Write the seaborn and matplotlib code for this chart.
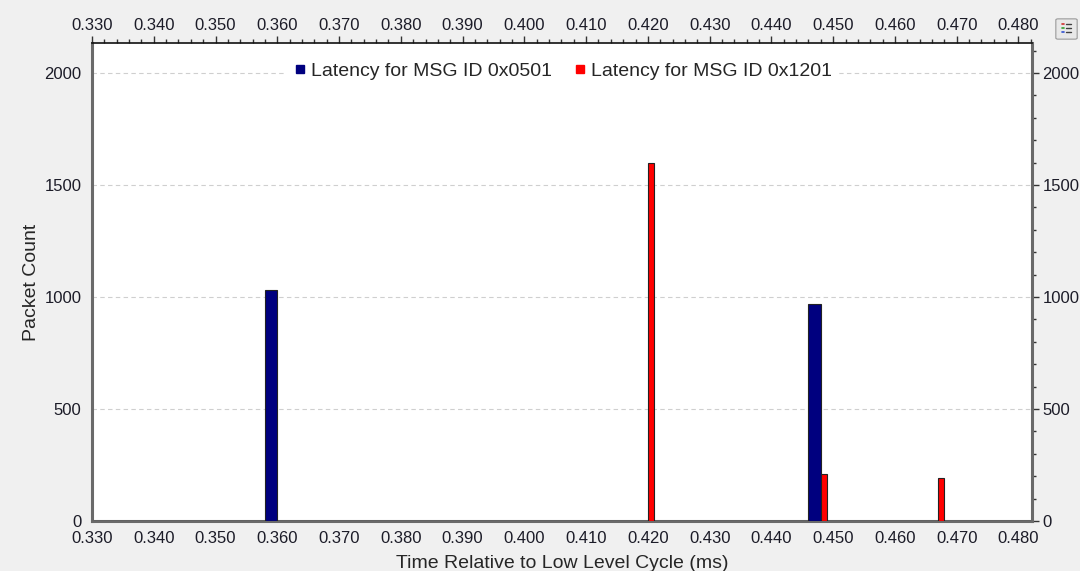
import numpy as np
import pandas as pd
import matplotlib
matplotlib.use('Agg')
import matplotlib.pyplot as plt
from matplotlib.lines import Line2D
from matplotlib.patches import FancyBboxPatch
from matplotlib.ticker import MultipleLocator, FormatStrFormatter
import seaborn as sns

sns.set_style('white')
plt.rcParams['font.family'] = ['Liberation Sans', 'DejaVu Sans']

# =========================
#  DATA
# =========================

series_names = ['Latency for MSG ID 0x0501', 'Latency for MSG ID 0x1201']
series_colors = ['#00007f', '#ff0000']

# bin left edges (ms) and packet counts
blue_bins = [0.358, 0.446]
blue_counts = [1032, 968]
blue_width = 0.002

red_bins = [0.420, 0.448, 0.467]
red_counts = [1600, 210, 190]
red_width = 0.001

x_min, x_max = 0.330, 0.4822
y_min, y_max = 0, 2134

# =========================
#  PLOT
# =========================

fig = plt.figure(figsize=(10.8, 5.71), dpi=100, facecolor='#f0f0f0')
ax = fig.add_axes([0.0852, 0.0876, 0.8704, 0.8371])
ax.set_facecolor('white')

blue_df = pd.DataFrame({'t': np.array(blue_bins) + blue_width / 2, 'n': blue_counts})
red_df = pd.DataFrame({'t': np.array(red_bins) + red_width / 2, 'n': red_counts})

sns.histplot(data=blue_df, x='t', weights='n', binwidth=blue_width,
             binrange=(x_min, x_min + 76 * blue_width), color=series_colors[0],
             alpha=1, edgecolor='#222222', linewidth=0.8, ax=ax, zorder=3)
sns.histplot(data=red_df, x='t', weights='n', binwidth=red_width,
             binrange=(x_min, x_min + 152 * red_width), color=series_colors[1],
             alpha=1, edgecolor='#222222', linewidth=0.8, ax=ax, zorder=3)

ax.set_xlim(x_min, x_max)
ax.set_ylim(y_min, y_max)

ax.xaxis.set_major_locator(MultipleLocator(0.01))
ax.xaxis.set_minor_locator(MultipleLocator(0.002))
ax.xaxis.set_major_formatter(FormatStrFormatter('%.3f'))
ax.yaxis.set_major_locator(MultipleLocator(500))
ax.yaxis.set_minor_locator(MultipleLocator(100))

ax.tick_params(which='both', direction='out', colors='#333333', labelcolor='#1c1c28',
               top=True, labeltop=True, right=True, labelright=True,
               labelsize=12, pad=1)
ax.tick_params(axis='x', which='both', pad=2.5)
ax.tick_params(axis='y', which='both', pad=2.5)
ax.tick_params(which='major', length=5, width=1)
ax.tick_params(which='minor', length=3, width=1)

ax.grid(False)
ax.yaxis.grid(True, which='major', color='#cfcfcf', linestyle=(0, (4, 3)), linewidth=0.8, zorder=0)
ax.set_axisbelow(True)

for side in ['left', 'bottom', 'right']:
    ax.spines[side].set_color('#6a6a6a')
    ax.spines[side].set_linewidth(2.2)
ax.spines['top'].set_color('#111111')
ax.spines['top'].set_linewidth(1.2)

ax.set_xlabel('Time Relative to Low Level Cycle (ms)', fontsize=14, labelpad=6)
ax.set_ylabel('Packet Count', fontsize=14, labelpad=3)

handles = [Line2D([], [], linestyle='none', marker='s', markersize=6,
                  markerfacecolor=c, markeredgecolor=c) for c in series_colors]
leg = ax.legend(handles, series_names, loc='upper center', ncol=2, fontsize=14,
                frameon=True, framealpha=1, edgecolor='white', fancybox=False,
                handletextpad=0.2, columnspacing=1.0, handlelength=0.8,
                borderaxespad=0.7, borderpad=0.3)
leg.set_zorder(5)

# small legend-toggle button in the top right corner
btn = FancyBboxPatch((1058 / 1080, 1 - 38 / 571), 17 / 1080, 18 / 571,
                     boxstyle='round,pad=0.002', transform=fig.transFigure,
                     facecolor='#e8e8e8', edgecolor='#9a9a9a', linewidth=0.8)
fig.patches.append(btn)
for i, c in enumerate(['#d03030', '#30a030', '#3050d0']):
    yy = 1 - (24 + i * 4) / 571
    fig.add_artist(Line2D([1062 / 1080, 1064 / 1080], [yy, yy], color=c, lw=1.2,
                          transform=fig.transFigure))
    fig.add_artist(Line2D([1066 / 1080, 1071 / 1080], [yy, yy], color='#404040', lw=1,
                          transform=fig.transFigure))

fig.savefig('out.png', dpi=100, facecolor=fig.get_facecolor())
